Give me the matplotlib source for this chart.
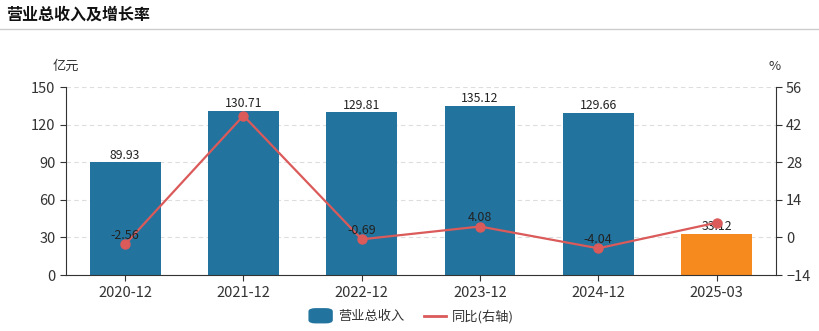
import matplotlib.pyplot as plt
from matplotlib.patches import FancyBboxPatch
from matplotlib.lines import Line2D

plt.rcParams['font.family'] = ['Noto Sans CJK SC', 'DejaVu Sans']

periods = ['2020-12', '2021-12', '2022-12', '2023-12', '2024-12', '2025-03']
revenue = [89.93, 130.71, 129.81, 135.12, 129.66, 33.12]
growth = [-2.56, 45.35, -0.69, 4.08, -4.04, 5.5]
growth_labels = ['-2.56', '', '-0.69', '4.08', '-4.04', '']

blue = '#22739E'
orange = '#F68A1E'
red = '#DB5A5A'
axis_col = '#333333'

fig = plt.figure(figsize=(8.2, 3.31), dpi=100)

# header
fig.text(0.008, 0.955, '营业总收入及增长率', fontsize=11.5, fontweight='bold',
         color='#111111', va='center')
fig.add_artist(Line2D([0, 1], [0.912, 0.912], color='#cccccc', lw=1))

ax = fig.add_axes([0.0805, 0.169, 0.8655, 0.568])
x = range(len(periods))
colors = [blue] * (len(periods) - 1) + [orange]
ax.bar(x, revenue, width=0.6, color=colors, zorder=2)
for i, v in enumerate(revenue):
    ax.text(i, v + 0.6, f'{v:.2f}', ha='center', va='bottom', fontsize=8.8,
            color='#222222', zorder=5)

ax.set_xlim(-0.5, len(periods) - 0.5)
ax.set_ylim(0, 150)
ax.set_yticks([0, 30, 60, 90, 120, 150])
ax.set_xticks(list(x))
ax.set_xticklabels(periods)
ax.grid(axis='y', linestyle=(0, (4, 3)), color='#dddddd', lw=0.8, zorder=0)
for s in ['top', 'right']:
    ax.spines[s].set_visible(False)
for s in ['left', 'bottom']:
    ax.spines[s].set_color(axis_col)
ax.tick_params(colors=axis_col, labelsize=10.5, length=4)
ax.tick_params(axis='x', pad=4)

ax2 = ax.twinx()
ax2.plot(list(x), growth, color=red, lw=1.6, marker='o', ms=6.5, zorder=4)
for i, lbl in enumerate(growth_labels):
    if lbl:
        ax2.text(i, growth[i] + 1.0, lbl, ha='center', va='bottom', fontsize=9,
                 color='#222222', zorder=5)
ax2.set_ylim(-14, 56)
ax2.set_yticks([-14, 0, 14, 28, 42, 56])
for s in ['top', 'left', 'bottom']:
    ax2.spines[s].set_visible(False)
ax2.spines['right'].set_color(axis_col)
ax2.tick_params(colors=axis_col, labelsize=10.5, length=4)

fig.text(0.08, 0.80, '亿元', fontsize=9.5, color='#333333', ha='center', va='center')
fig.text(0.944, 0.80, '%', fontsize=9.5, color='#333333', ha='center', va='center')

# legend
patch = FancyBboxPatch((0.377, 0.025), 0.028, 0.042, boxstyle='round,pad=0,rounding_size=0.008',
                       transform=fig.transFigure, color=blue, figure=fig)
fig.add_artist(patch)
fig.text(0.413, 0.045, '营业总收入', fontsize=9.5, color='#333333', va='center')
fig.add_artist(Line2D([0.517, 0.544], [0.045, 0.045], color=red, lw=2))
fig.text(0.551, 0.045, '同比(右轴)', fontsize=9.5, color='#333333', va='center')

fig.savefig('out.png', dpi=100)
